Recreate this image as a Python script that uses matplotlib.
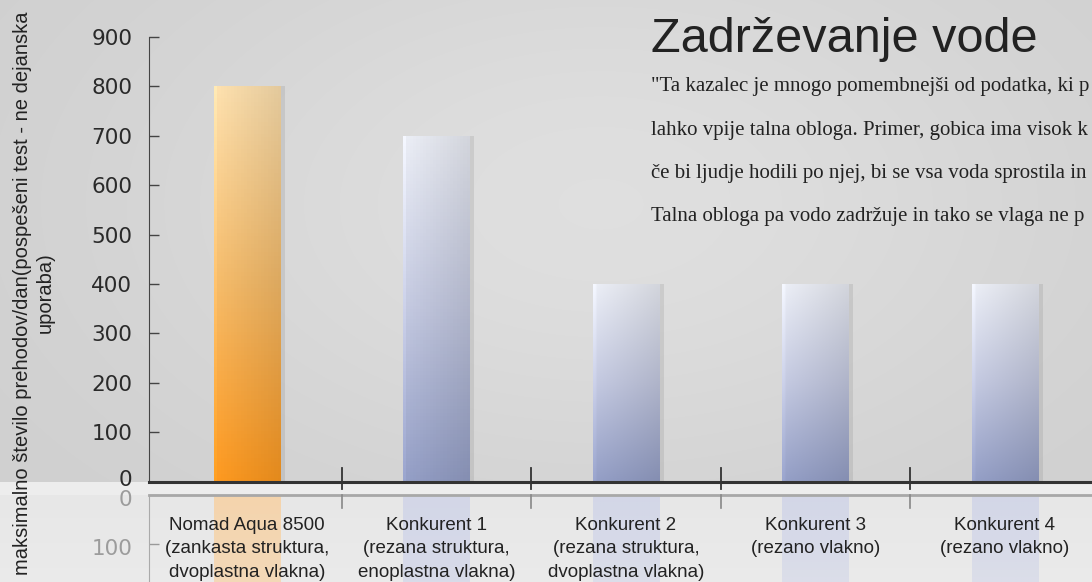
import numpy as np
import matplotlib
matplotlib.use("Agg")
import matplotlib.pyplot as plt
from matplotlib.transforms import ScaledTranslation

plt.rcParams['font.family'] = ['Liberation Sans', 'DejaVu Sans']

# data
categories = ["Nomad Aqua 8500\n(zankasta struktura,\ndvoplastna vlakna)",
              "Konkurent 1\n(rezana struktura,\nenoplastna vlakna)",
              "Konkurent 2\n(rezana struktura,\ndvoplastna vlakna)",
              "Konkurent 3\n(rezano vlakno)",
              "Konkurent 4\n(rezano vlakno)"]
values = [800, 700, 400, 400, 400]
yticks = list(range(0, 1000, 100))
ref_ticks = [0, 100]
title = "Zadrževanje vode"
body_lines = ['"Ta kazalec je mnogo pomembnejši od podatka, ki p',
              'lahko vpije talna obloga. Primer, gobica ima visok k',
              'če bi ljudje hodili po njej, bi se vsa voda sprostila in',
              'Talna obloga pa vodo zadržuje in tako se vlaga ne p']
ylabel = "maksimalno število prehodov/dan(pospešeni test - ne dejanska\nuporaba)"

W, H = 1092, 582
fig = plt.figure(figsize=(W / 100, H / 100), dpi=100)


def px(x, y):
    # pixel (from top-left) -> figure fraction
    return x / W, 1 - y / H


# background
bg = fig.add_axes([0, 0, 1, 1], zorder=-10)
yy, xx = np.mgrid[0:H, 0:W]
val = 0.81 + 0.065 * np.exp(-(((xx / W) - 0.55) ** 2 / 0.2 + ((yy / H) - 0.35) ** 2 / 0.25))
val[yy >= 487] = 0.905 + 0.015 * (yy[yy >= 487] - 487) / (H - 487)
val[(yy >= 482) & (yy < 495)] = 0.93
bg.imshow(np.dstack([val, val, val]), extent=(0, 1, 0, 1), aspect='auto')
bg.axis('off')

x = np.arange(len(values))
bw = 0.35
xlim = (-0.516, 4.459)

# main axes
l, b = px(149, 481.7)
_, t = px(0, 37)
ax = fig.add_axes([l, b, 1 - l, t - b])
ax.patch.set_alpha(0)

orange = [np.array([0.96, 0.85, 0.66]), np.array([0.93, 0.71, 0.40]), np.array([0.96, 0.58, 0.12])]
blue = [np.array([0.89, 0.90, 0.93]), np.array([0.74, 0.76, 0.85]), np.array([0.56, 0.60, 0.75])]


def grad_bar(a, xc, h, cols):
    n = 100
    s = np.linspace(0, 1, n)[:, None]
    top, mid, bot = cols
    c = np.where(s[..., None] < 0.5,
                 top + (mid - top) * (s[..., None] / 0.5),
                 mid + (bot - mid) * ((s[..., None] - 0.5) / 0.5))
    c = np.repeat(c, 20, axis=1)
    shade = np.linspace(1.04, 0.93, 20)
    shade[0] = 1.08
    c = np.clip(c * shade[None, :, None], 0, 1)
    a.imshow(c, extent=(xc - bw / 2, xc + bw / 2, 0, h), aspect='auto',
             origin='upper', zorder=3)
    # soft shadow on the right side
    a.bar(xc + bw / 2 + 0.012, h, width=0.024, bottom=0, color='#7a7a7a',
          alpha=0.18, zorder=2, linewidth=0)


for i, v in enumerate(values):
    grad_bar(ax, x[i], v, orange if i == 0 else blue)

ax.set_xlim(*xlim)
ax.set_ylim(0, 900)
ax.set_yticks(yticks)
ax.set_yticklabels([str(t) for t in yticks], fontfamily='DejaVu Sans',
                   fontsize=15.5, color='#2a2a2a')
ax.tick_params(axis='y', direction='in', length=7, width=1, color='#444', pad=12)
ax.set_xticks([])
for sp in ['top', 'right', 'bottom']:
    ax.spines[sp].set_visible(False)
ax.spines['left'].set_color('#444')
ax.axhline(0, color='#333', lw=2.2, zorder=5, clip_on=False)
for xt in x[:-1] + 0.5:
    ax.plot([xt, xt], [-15, 28], color='#333', lw=1.3, zorder=6, clip_on=False)
zero_lab = ax.get_yticklabels()[0]
zero_lab.set_transform(zero_lab.get_transform() + ScaledTranslation(0, 4 / 100, fig.dpi_scale_trans))

# reflection axes
_, rt = px(0, 495)
rax = fig.add_axes([l, 0, 1 - l, rt])
rax.patch.set_alpha(0)
ref_top = [np.array([0.98, 0.81, 0.60]), np.array([0.80, 0.82, 0.91])]
for i, v in enumerate(values):
    base = ref_top[0] if i == 0 else ref_top[1]
    n = 100
    img = np.zeros((n, 1, 4))
    img[:, 0, :3] = base
    img[:, 0, 3] = np.linspace(0.75, 0.15, n)
    rax.imshow(img, extent=(x[i] - bw / 2, x[i] + bw / 2, v, 0), aspect='auto',
               origin='upper', zorder=2)
rax.set_xlim(*xlim)
rax.set_ylim(176, 0)
rax.set_yticks(ref_ticks)
rax.set_yticklabels([str(t) for t in ref_ticks], fontfamily='DejaVu Sans',
                    fontsize=15.5, color='#9c9c9c')
rax.tick_params(axis='y', direction='in', length=7, width=1, color='#999', pad=12)
for lab in rax.get_yticklabels():
    lab.set_transform(lab.get_transform() + ScaledTranslation(0, -3 / 100, fig.dpi_scale_trans))
rax.set_xticks([])
for sp in ['right', 'bottom']:
    rax.spines[sp].set_visible(False)
rax.spines['left'].set_color('#aaa')
rax.spines['top'].set_color('#a8a8a8')
rax.spines['top'].set_linewidth(2)
for xt in x[:-1] + 0.5:
    rax.plot([xt, xt], [0, 27], color='#888', lw=1.2, zorder=6, clip_on=False)

# category labels
for i, lab in enumerate(categories):
    rax.text(x[i], 44, lab, ha='center', va='top', fontsize=13.5,
             color='#222', linespacing=1.5, zorder=7)

# title and text
fig.text(*px(651, 52), title, fontsize=35, color='#222', ha='left', va='baseline')
for j, line in enumerate(body_lines):
    fig.text(*px(651, 87 + 43 * j), line, fontsize=15, color='#222',
             family='Liberation Serif', ha='left', va='center')

fig.text(*px(34, 293), ylabel, rotation=90, ha='center', va='center',
         multialignment='center', fontsize=14.5, color='#222', linespacing=1.2)

fig.savefig('out.png', dpi=100)
